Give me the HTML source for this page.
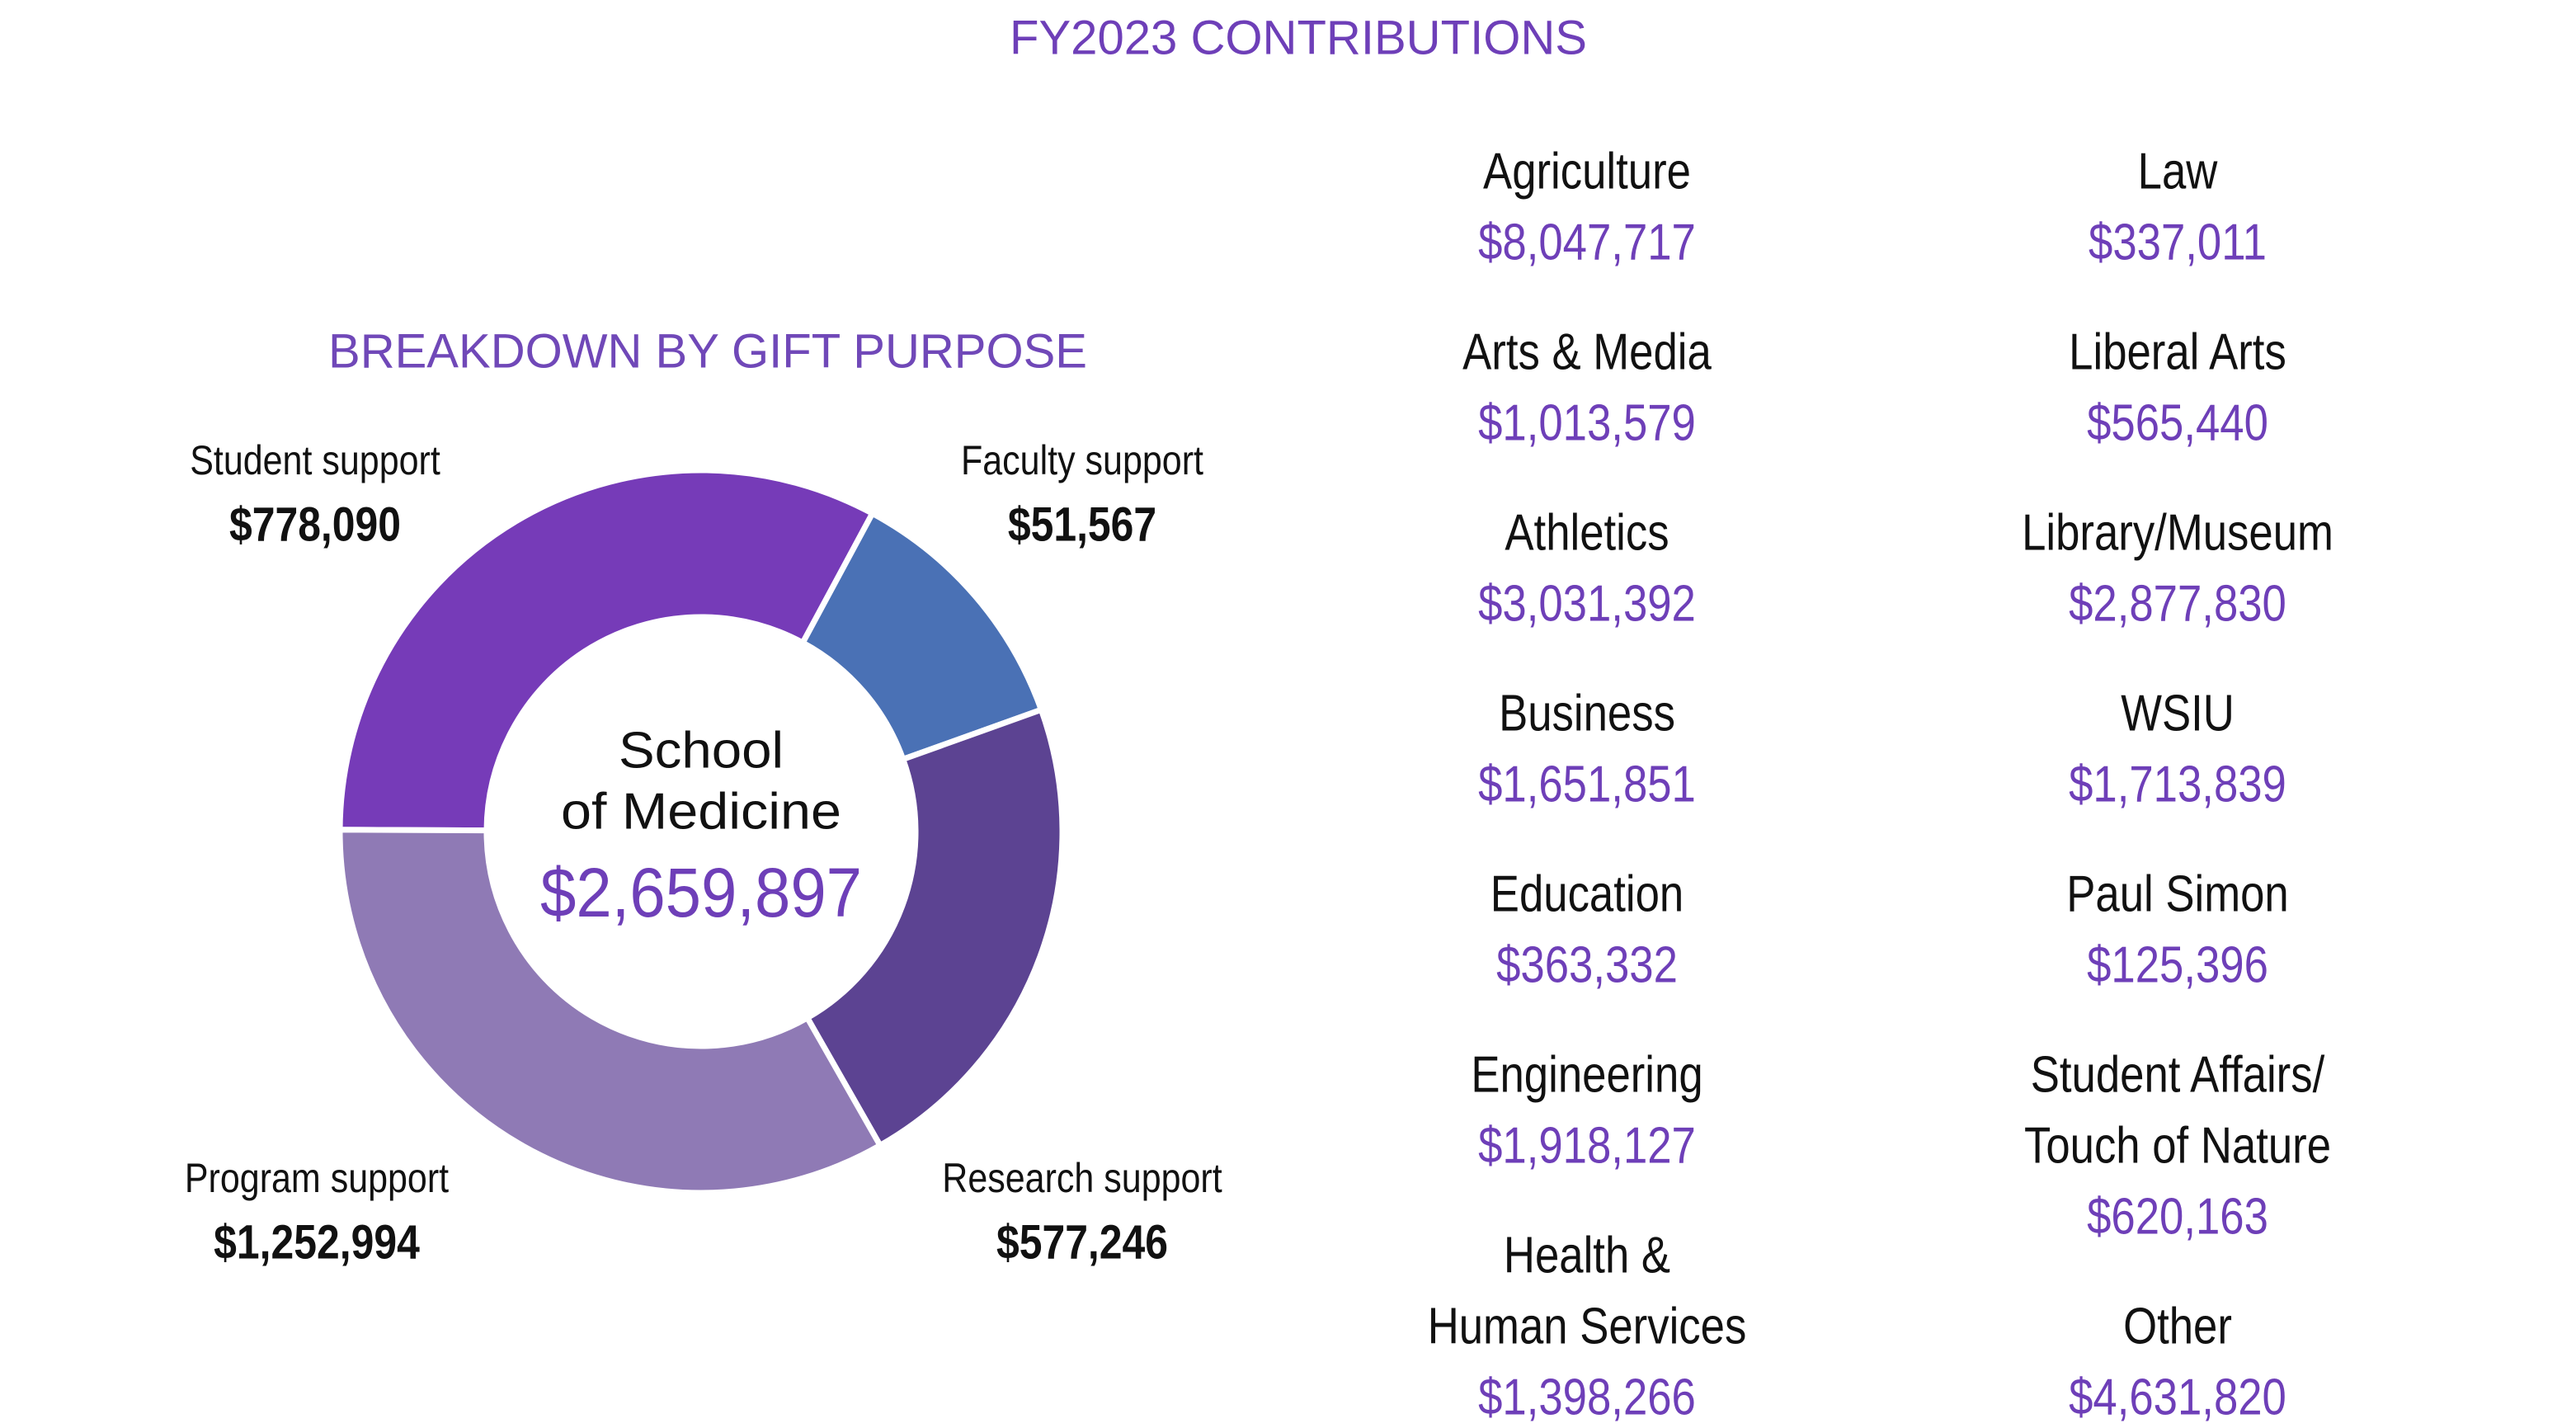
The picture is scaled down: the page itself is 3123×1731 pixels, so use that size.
<!DOCTYPE html>
<html><head><meta charset="utf-8"><style>
html,body{margin:0;padding:0;background:#fff;}
svg{display:block;font-family:"Liberation Sans",sans-serif;}
</style></head><body>
<svg id="chart" width="3123" height="1731" viewBox="0 0 3123 1731" xmlns="http://www.w3.org/2000/svg">
<text x="1574" y="46" font-size="58" fill="#6E3FB8" text-anchor="middle" dominant-baseline="central" textLength="700" lengthAdjust="spacingAndGlyphs">FY2023 CONTRIBUTIONS</text>
<text x="858" y="426" font-size="58" fill="#7048B8" text-anchor="middle" dominant-baseline="central" textLength="920" lengthAdjust="spacingAndGlyphs">BREAKDOWN BY GIFT PURPOSE</text>
<g id="donut"></g>
<g id="labels"></g>
<text x="850" y="910" font-size="62" fill="#111" text-anchor="middle" dominant-baseline="central" textLength="200" lengthAdjust="spacingAndGlyphs">School</text>
<text x="850" y="984" font-size="62" fill="#111" text-anchor="middle" dominant-baseline="central" textLength="340" lengthAdjust="spacingAndGlyphs">of Medicine</text>
<text x="850" y="1082" font-size="84" fill="#6E3FB8" text-anchor="middle" dominant-baseline="central" textLength="390" lengthAdjust="spacingAndGlyphs">$2,659,897</text>
<g id="colleges"></g>
</svg>
<script>
const categories = ["Student support","Faculty support","Research support","Program support"];
const values = [778090, 51567, 577246, 1252994];
const valueLabels = ["$778,090","$51,567","$577,246","$1,252,994"];
const displayShare = [118, 42, 80, 120];
const sliceColors = ["#763BB8","#4A71B5","#5C4392","#8F7AB5"];
const startAngle = 270.3;

const col1Names = [["Agriculture"],["Arts & Media"],["Athletics"],["Business"],["Education"],["Engineering"],["Health &","Human Services"]];
const col1Values = ["$8,047,717","$1,013,579","$3,031,392","$1,651,851","$363,332","$1,918,127","$1,398,266"];
const col2Names = [["Law"],["Liberal Arts"],["Library/Museum"],["WSIU"],["Paul Simon"],["Student Affairs/","Touch of Nature"],["Other"]];
const col2Values = ["$337,011","$565,440","$2,877,830","$1,713,839","$125,396","$620,163","$4,631,820"];

const NS="http://www.w3.org/2000/svg";
const cx=850, cy=1008, R=438, r=260;
function pt(a,rad){const t=a*Math.PI/180;return [cx+rad*Math.sin(t), cy-rad*Math.cos(t)];}
const donut=document.getElementById('donut');
const total=displayShare.reduce((s,v)=>s+v,0);
let a0=startAngle;
displayShare.forEach((w,i)=>{
  const a1=a0+w/total*360;
  const [x0,y0]=pt(a0,R),[x1,y1]=pt(a1,R),[x2,y2]=pt(a1,r),[x3,y3]=pt(a0,r);
  const large=(a1-a0)>180?1:0;
  const p=document.createElementNS(NS,'path');
  p.setAttribute('d',`M${x0},${y0} A${R},${R} 0 ${large} 1 ${x1},${y1} L${x2},${y2} A${r},${r} 0 ${large} 0 ${x3},${y3} Z`);
  p.setAttribute('fill',sliceColors[i]);
  p.setAttribute('stroke','#fff');
  p.setAttribute('stroke-width','7');
  
  
  donut.appendChild(p);
  a0=a1;
});
function txt(parent,x,y,s,size,fill,weight,len){
  const t=document.createElementNS(NS,'text');
  t.setAttribute('x',x);t.setAttribute('y',y);t.setAttribute('font-size',size);
  t.setAttribute('fill',fill);t.setAttribute('text-anchor','middle');
  t.setAttribute('dominant-baseline','central');
  if(weight)t.setAttribute('font-weight',weight);
  t.textContent=s;
  parent.appendChild(t);
  const w=t.getComputedTextLength();
  const target=w*len;
  t.setAttribute('textLength',target);
  t.setAttribute('lengthAdjust','spacingAndGlyphs');
  return t;
}
const labels=document.getElementById('labels');
const labelPos=[[382,558],[1312,558],[1312,1428],[384,1428]];
categories.forEach((c,i)=>{
  const [x,y]=labelPos[i];
  const t1=txt(labels,x,y,c,50,'#111',null,0.86);
  
  
  const t2=txt(labels,x,y+78,valueLabels[i],58,'#111','bold',0.86);
  
  
});
const colleges=document.getElementById('colleges');
function drawCol(names,vals,x){
  let y=208;
  names.forEach((n,i)=>{
    n.forEach(line=>{
      const t=txt(colleges,x,y,line,62,'#111',null,0.85);
      
      
      y+=86;
    });
    const v=txt(colleges,x,y,vals[i],62,'#6E3FB8',null,0.85);
    
    
    y+=133;
  });
}
drawCol(col1Names,col1Values,1924);
drawCol(col2Names,col2Values,2640);
</script>
</body></html>
